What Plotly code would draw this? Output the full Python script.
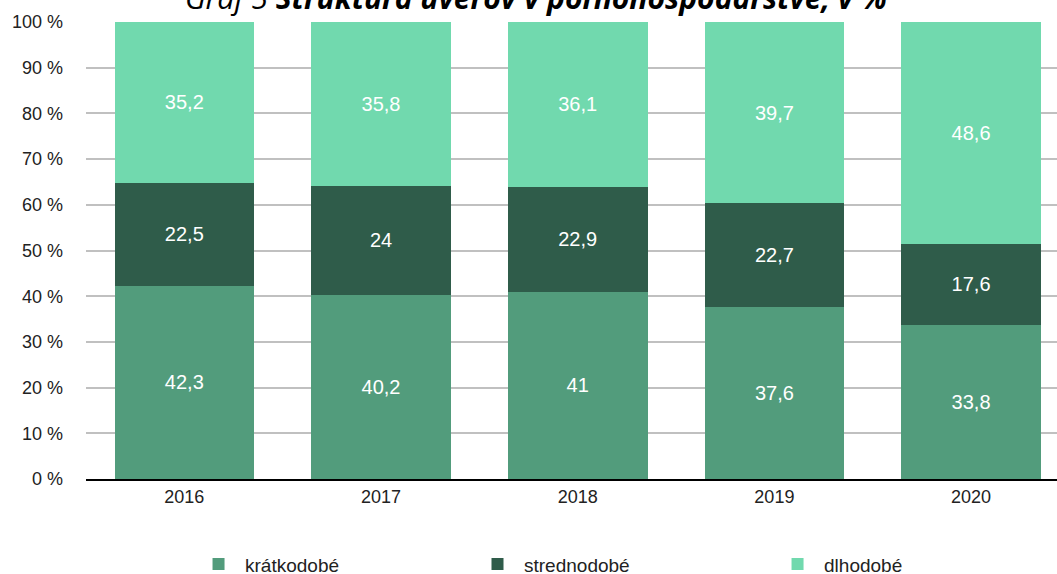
import plotly.graph_objects as go

years = ["2016", "2017", "2018", "2019", "2020"]
kratkodobe = [42.3, 40.2, 41, 37.6, 33.8]
strednodobe = [22.5, 24, 22.9, 22.7, 17.6]
dlhodobe = [35.2, 35.8, 36.1, 39.7, 48.6]
series_names = ["krátkodobé", "strednodobé", "dlhodobé"]
colors = ["#529c7c", "#2f5c4a", "#71d9ae"]
y_ticks = [0, 10, 20, 30, 40, 50, 60, 70, 80, 90, 100]
y_tick_labels = [f"{v} %" for v in y_ticks]


def fmt(v):
    return f"{v:g}".replace(".", ",")


legend_ids = ["legend", "legend2", "legend3"]
legend_x = [0.1092, 0.3965, 0.7055]

fig = go.Figure()
for name, vals, col, lid in zip(series_names, [kratkodobe, strednodobe, dlhodobe], colors, legend_ids):
    fig.add_trace(go.Bar(
        x=years, y=vals, name=name, marker=dict(color=col, line=dict(width=0)),
        text=[fmt(v) for v in vals], textposition="inside", insidetextanchor="middle",
        textangle=0, textfont=dict(color="white", size=20, family="Liberation Sans"),
        legend=lid, showlegend=True,
    ))

legend_common = dict(orientation="h", xanchor="left", y=-0.145, yanchor="top",
                     itemwidth=43, visible=True,
                     font=dict(size=19, color="#222"), bgcolor="rgba(0,0,0,0)")

fig.update_layout(
    barmode="stack",
    showlegend=True,
    width=1057, height=574,
    margin=dict(l=86, r=0, t=22, b=95, autoexpand=False),
    paper_bgcolor="white", plot_bgcolor="white",
    bargap=0.29,
    font=dict(family="Liberation Sans", size=18, color="#222"),
    xaxis=dict(type="category", range=[-0.5, 4.437], showgrid=False, automargin=False,
               showline=True, linecolor="black", linewidth=2,
               ticks="", tickfont=dict(size=18, color="#222")),
    yaxis=dict(range=[0, 100], tickvals=y_ticks, ticktext=y_tick_labels, automargin=False,
               showgrid=True, gridcolor="#c0c0c0", gridwidth=1.5,
               zeroline=False, showline=False, ticks="",
               tickfont=dict(size=18, color="#222"), ticklabelstandoff=22),
    legend=dict(x=legend_x[0], **legend_common),
    legend2=dict(x=legend_x[1], **legend_common),
    legend3=dict(x=legend_x[2], **legend_common),
    annotations=[dict(
        xref="paper", yref="paper", x=0.463, y=1.0, yanchor="bottom", yshift=2,
        text="<i>Graf 5 </i><b><i>Štruktúra úverov v poľnohospodárstve, v %</i></b>",
        showarrow=False, font=dict(family="Open Sans", size=30, color="black"),
    )],
)

fig.write_html("out.html", config={"displayModeBar": False},
               post_script="document.body.style.margin='0';document.body.style.overflow='hidden';")
